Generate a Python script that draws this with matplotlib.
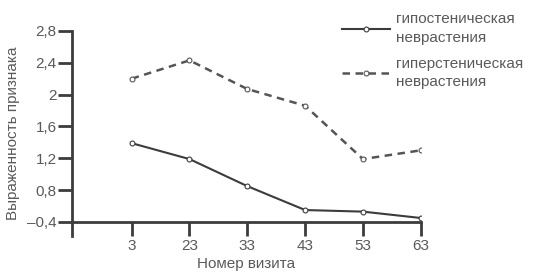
import matplotlib.pyplot as plt

plt.rcParams['font.family'] = ['Liberation Sans', 'DejaVu Sans']

# данные
visits = ['3', '23', '33', '43', '53', '63']
hypo = [1.39, 1.19, 0.85, 0.55, 0.53, 0.45]
hyper = [2.2, 2.43, 2.07, 1.86, 1.19, 1.3]
yticks = [0.4, 0.8, 1.2, 1.6, 2.0, 2.4, 2.8]
ylabels = ['\u20130,4', '0,8', '1,2', '1,6', '2', '2,4', '2,8']

txt = '#5a5a5a'
ln = '#3c3c3c'
fs = 11

fig = plt.figure(figsize=(5.34, 2.76), dpi=100)
ax = fig.add_axes([0.135, 0.145, 0.653, 0.743])

x = range(len(visits))
h1, = ax.plot(x, hypo, '-', color=ln, lw=1.5, marker='o', ms=3.5,
              mfc='white', mec=ln, mew=0.8)
h2, = ax.plot(x, hyper, '--', color='#555555', lw=1.8, dashes=(3, 2.2),
              marker='o', ms=3.5, mfc='white', mec='#555555', mew=0.8)

ax.set_xlim(-1.03, 5)
ax.set_ylim(0.4 - 14 / 79.6, 2.8)
ax.spines['bottom'].set_position(('data', 0.4))
for s in ['top', 'right']:
    ax.spines[s].set_visible(False)
for s in ['left', 'bottom']:
    ax.spines[s].set_linewidth(2)
    ax.spines[s].set_color(ln)

ax.set_xticks(list(x))
ax.set_xticklabels(visits)
ax.set_yticks(yticks)
ax.set_yticklabels(ylabels)
ax.tick_params(axis='y', length=10, width=2, color=ln, labelsize=fs,
               labelcolor=txt, pad=1)
ax.tick_params(axis='x', length=10, width=2, color=ln, labelsize=fs,
               labelcolor=txt, pad=2)

ax.set_xlabel('Номер визита', fontsize=fs, color=txt, labelpad=3)
ax.set_ylabel('Выраженность признака', fontsize=fs, color=txt)
ax.yaxis.set_label_coords(-0.15, 0.5)

leg = fig.legend([h1, h2],
                 ['гипостеническая\nневрастения', 'гиперстеническая\nневрастения'],
                 loc='upper left', bbox_to_anchor=(0.615, 1.005), frameon=False,
                 fontsize=fs, labelcolor=txt, handlelength=3.1,
                 handletextpad=0.45, labelspacing=0.8)
for t in leg.get_texts():
    t.set_linespacing(1.4)

fig.savefig('out.png', dpi=100)
